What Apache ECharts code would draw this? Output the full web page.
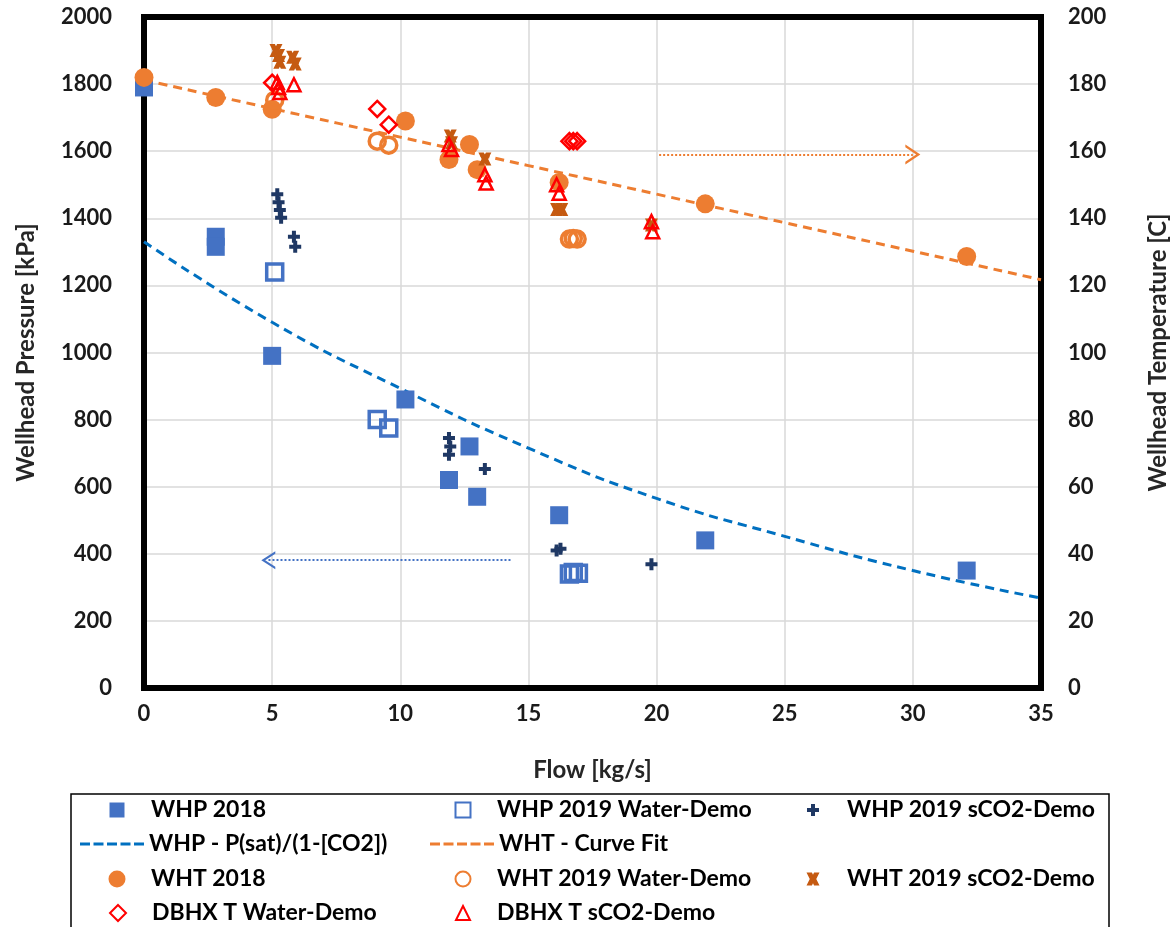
<!DOCTYPE html>
<html>
<head>
<meta charset="utf-8">
<script src="https://cdn.jsdelivr.net/npm/echarts@6/dist/echarts.min.js"></script>
<style>
  html, body { margin: 0; padding: 0; background: #fff; }
  #chart { width: 1172px; height: 927px; }
</style>
</head>
<body>
<div id="chart"></div>
<script>
// Flow axis ticks and curve sample points
const flowTicks = [0, 5, 10, 15, 20, 25, 30, 35];
const fitFlow = [0, 5, 10, 15, 20, 25, 30, 35];
const whpFitValues = [1330, 1090, 893, 715, 565, 452, 350, 268];
const whtFitValues = [181.2, 172.7, 164.2, 155.7, 147.2, 138.7, 130.2, 121.7];

// Wellhead pressure [kPa]
const whp2018Flow = [0, 2.8, 2.8, 5.0, 10.2, 11.9, 12.7, 13.0, 16.2, 21.9, 32.1];
const whp2018Values = [1790, 1345, 1315, 990, 860, 620, 720, 570, 515, 440, 350];
const whpWaterFlow = [5.1, 9.1, 9.55, 16.6, 16.75, 16.95];
const whpWaterValues = [1240, 800, 775, 340, 344, 342];
const whpCo2Flow = [5.2, 5.25, 5.3, 5.35, 5.85, 5.9, 11.9, 11.95, 11.9, 13.3, 16.1, 16.25, 19.8];
const whpCo2Values = [1472, 1448, 1425, 1402, 1345, 1315, 745, 720, 695, 653, 410, 415, 369];

// Wellhead / heat exchanger temperature [C]
const wht2018Flow = [0, 2.8, 5.0, 10.2, 11.9, 12.7, 13.0, 16.2, 21.9, 32.1];
const wht2018Values = [182, 176, 172.5, 169, 157.5, 162, 154.5, 150.7, 144.3, 128.6];
const whtWaterFlow = [5.1, 9.1, 9.55, 16.6, 16.75, 16.9];
const whtWaterValues = [175.2, 163, 161.8, 133.8, 134, 133.8];
const whtCo2Flow = [5.15, 5.25, 5.3, 5.8, 5.9, 11.95, 12.0, 13.3, 16.1, 16.3, 19.8];
const whtCo2Values = [190, 188.5, 186.5, 188, 186, 164.5, 162.5, 157.7, 142.6, 142.6, 138];
const dbhxWaterFlow = [5.0, 9.1, 9.55, 16.6, 16.75, 16.9];
const dbhxWaterValues = [180.4, 172.6, 167.9, 163, 163, 163];
const dbhxCo2Flow = [5.2, 5.25, 5.3, 5.85, 11.9, 12.0, 13.3, 13.35, 16.1, 16.2, 19.8, 19.85];
const dbhxCo2Values = [180.5, 179, 177.5, 179.8, 162, 160.5, 153, 150.5, 150, 147.5, 139, 136];

// Direction arrows: pressure series read on the left axis, temperatures on the right
const pressureArrow = { from: [14.3, 381], to: [4.85, 381] };
const tempArrow = { from: [20.1, 159], to: [30.0, 159] };

const pairs = (xs, ys) => xs.map((x, i) => [x, ys[i]]);

const FONT = 'Lato';
const PLUS = 'path://M4,0 L8,0 L8,4 L12,4 L12,8 L8,8 L8,12 L4,12 L4,8 L0,8 L0,4 L4,4 Z';
const CROSS = 'path://M0,0 L5,0 L6,2 L7,0 L12,0 L9,6 L12,12 L7,12 L6,10 L5,12 L0,12 L3,6 Z';
const CHEVRON = 'path://M0,10 L5,0 L10,10 L8.6,10 L5,2.8 L1.4,10 Z';
const DASHES = 'path://M0,0h10v3h-10z M13.5,0h10v3h-10z M27,0h10v3h-10z M40.5,0h10v3h-10z M54,0h10v3h-10z';

// plot frame in pixels
const PLOT = { left: 144, top: 17, right: 1041, bottom: 688 };

const chart = echarts.init(document.getElementById('chart'), null, { renderer: 'canvas' });

const LEGEND_LH = 24;
const legendText = { fontFamily: FONT, fontWeight: 'bold', fontSize: 23, lineHeight: LEGEND_LH, color: '#000' };

// marker entry: icon centred at cx, text starting at cx + 34
function markerLegend(name, cx, cy, size) {
  return {
    data: [{ name: name }], left: cx - size / 2, top: cy - LEGEND_LH / 2,
    itemWidth: size, itemHeight: size, padding: 0, selectedMode: false,
    textStyle: Object.assign({ padding: [0, 0, 0, 34 - size / 2 - 5] }, legendText)
  };
}
// dashed-line entry
function lineLegend(name, x0, cy, color) {
  return {
    data: [{ name: name, icon: DASHES, itemStyle: { color: color } }],
    left: x0, top: cy - LEGEND_LH / 2, itemWidth: 64, itemHeight: 3, padding: 0, selectedMode: false,
    textStyle: Object.assign({ padding: [0, 0, 0, 0] }, legendText)
  };
}

const rows = [810, 844, 879, 913];
const cols = [117, 462, 813];

const axisLabelStyle = { fontFamily: FONT, fontWeight: 'bold', fontSize: 22, color: '#1a1a1a' };
const axisNameStyle = { fontFamily: FONT, fontWeight: 'bold', fontSize: 24, color: '#262626' };

const option = {
  backgroundColor: '#fff',
  animation: false,
  grid: {
    left: PLOT.left, right: 1172 - PLOT.right, top: PLOT.top, bottom: 927 - PLOT.bottom,
    show: false, containLabel: false, outerBoundsMode: 'none'
  },
  legend: [
    markerLegend('WHP 2018', cols[0], rows[0], 15),
    markerLegend('WHP 2019 Water-Demo', cols[1], rows[0], 15),
    markerLegend('WHP 2019 sCO2-Demo', cols[2], rows[0], 12),
    lineLegend('WHP - P(sat)/(1-[CO2])', 80, rows[1], '#0070C0'),
    lineLegend('WHT - Curve Fit', 430, rows[1], '#ED7D31'),
    markerLegend('WHT 2018', cols[0], rows[2], 17),
    markerLegend('WHT 2019 Water-Demo', cols[1], rows[2], 15),
    markerLegend('WHT 2019 sCO2-Demo', cols[2], rows[2], 13),
    markerLegend('DBHX T Water-Demo', cols[0], rows[3], 16),
    markerLegend('DBHX T sCO2-Demo', cols[1], rows[3], 14)
  ],
  graphic: [{
    type: 'rect', z: 1, silent: true,
    shape: { x: PLOT.left, y: PLOT.top, width: PLOT.right - PLOT.left, height: PLOT.bottom - PLOT.top },
    style: { fill: 'none', stroke: '#000', lineWidth: 6 }
  }, {
    type: 'rect', z: 100, silent: true,
    shape: { x: 71, y: 794, width: 1038, height: 150 },
    style: { fill: 'none', stroke: '#000', lineWidth: 1.5 }
  }],
  xAxis: {
    type: 'value', min: flowTicks[0], max: flowTicks[flowTicks.length - 1], interval: 5,
    name: 'Flow [kg/s]', nameLocation: 'middle', nameGap: 70, nameTextStyle: axisNameStyle,
    axisLine: { show: false }, axisTick: { show: false },
    axisLabel: Object.assign({ margin: 15, formatter: v => String(v) }, axisLabelStyle),
    splitLine: { show: true, lineStyle: { color: '#D9D9D9', width: 1.5 } }
  },
  yAxis: [{
    type: 'value', min: 0, max: 2000, interval: 200, position: 'left',
    name: 'Wellhead Pressure [kPa]', nameLocation: 'middle', nameGap: 106, nameRotate: 90,
    nameTextStyle: axisNameStyle,
    axisLine: { show: false }, axisTick: { show: false },
    axisLabel: Object.assign({ margin: 32, formatter: v => String(v) }, axisLabelStyle),
    splitLine: { show: true, lineStyle: { color: '#D9D9D9', width: 1.5 } }
  }, {
    type: 'value', min: 0, max: 200, interval: 20, position: 'right',
    name: 'Wellhead Temperature [C]', nameLocation: 'middle', nameGap: 105, nameRotate: 90,
    nameTextStyle: axisNameStyle,
    axisLine: { show: false }, axisTick: { show: false },
    axisLabel: Object.assign({ margin: 27, formatter: v => String(v) }, axisLabelStyle),
    splitLine: { show: false }
  }],
  series: [
    {
      name: 'WHP - P(sat)/(1-[CO2])', type: 'line', yAxisIndex: 0, smooth: true,
      symbol: 'none', showSymbol: false, data: pairs(fitFlow, whpFitValues), z: 3,
      lineStyle: { color: '#0070C0', width: 3, type: [9, 6] }, itemStyle: { color: '#0070C0' }
    },
    {
      name: 'WHT - Curve Fit', type: 'line', yAxisIndex: 1, smooth: true,
      symbol: 'none', showSymbol: false, data: pairs(fitFlow, whtFitValues), z: 3,
      lineStyle: { color: '#ED7D31', width: 3, type: [9, 6] }, itemStyle: { color: '#ED7D31' }
    },
    {
      name: 'pressure-arrow', type: 'line', yAxisIndex: 0, data: [], silent: true,
      markLine: {
        silent: true, symbol: ['none', CHEVRON], symbolSize: [18, 14], label: { show: false },
        lineStyle: { color: '#4472C4', width: 2, type: [2, 2] },
        data: [[{ coord: pressureArrow.from }, { coord: pressureArrow.to }]]
      }
    },
    {
      name: 'temperature-arrow', type: 'line', yAxisIndex: 1, data: [], silent: true,
      markLine: {
        silent: true, symbol: ['none', CHEVRON], symbolSize: [20, 15], label: { show: false },
        lineStyle: { color: '#ED7D31', width: 2, type: [2, 2] },
        data: [[{ coord: tempArrow.from }, { coord: tempArrow.to }]]
      }
    },
    {
      name: 'WHP 2018', type: 'scatter', yAxisIndex: 0, clip: false, z: 4,
      symbol: 'rect', symbolSize: 18, data: pairs(whp2018Flow, whp2018Values),
      itemStyle: { color: '#4472C4', opacity: 1 }
    },
    {
      name: 'WHP 2019 Water-Demo', type: 'scatter', yAxisIndex: 0, clip: false, z: 4,
      symbol: 'rect', symbolSize: 16, data: pairs(whpWaterFlow, whpWaterValues),
      itemStyle: { color: 'rgba(255,255,255,0)', borderColor: '#4472C4', borderWidth: 3.5, opacity: 1 }
    },
    {
      name: 'WHP 2019 sCO2-Demo', type: 'scatter', yAxisIndex: 0, clip: false, z: 4,
      symbol: PLUS, symbolSize: 12, data: pairs(whpCo2Flow, whpCo2Values),
      itemStyle: { color: '#1F3864', opacity: 1 }
    },
    {
      name: 'WHT 2018', type: 'scatter', yAxisIndex: 1, clip: false, z: 4,
      symbol: 'circle', symbolSize: 19, data: pairs(wht2018Flow, wht2018Values),
      itemStyle: { color: '#ED7D31', opacity: 1 }
    },
    {
      name: 'WHT 2019 Water-Demo', type: 'scatter', yAxisIndex: 1, clip: false, z: 4,
      symbol: 'circle', symbolSize: 16, data: pairs(whtWaterFlow, whtWaterValues),
      itemStyle: { color: 'rgba(255,255,255,0)', borderColor: '#ED7D31', borderWidth: 3.5, opacity: 1 }
    },
    {
      name: 'WHT 2019 sCO2-Demo', type: 'scatter', yAxisIndex: 1, clip: false, z: 4,
      symbol: CROSS, symbolSize: 13, data: pairs(whtCo2Flow, whtCo2Values),
      itemStyle: { color: '#C55A11', opacity: 1 }
    },
    {
      name: 'DBHX T Water-Demo', type: 'scatter', yAxisIndex: 1, clip: false, z: 4,
      symbol: 'diamond', symbolSize: 16, data: pairs(dbhxWaterFlow, dbhxWaterValues),
      itemStyle: { color: 'rgba(255,255,255,0)', borderColor: '#FF0000', borderWidth: 2.5, opacity: 1 }
    },
    {
      name: 'DBHX T sCO2-Demo', type: 'scatter', yAxisIndex: 1, clip: false, z: 4,
      symbol: 'triangle', symbolSize: 13, data: pairs(dbhxCo2Flow, dbhxCo2Values),
      itemStyle: { color: 'rgba(255,255,255,0)', borderColor: '#FF0000', borderWidth: 2.5, opacity: 1 }
    }
  ]
};

chart.setOption(option);
</script>
</body>
</html>
